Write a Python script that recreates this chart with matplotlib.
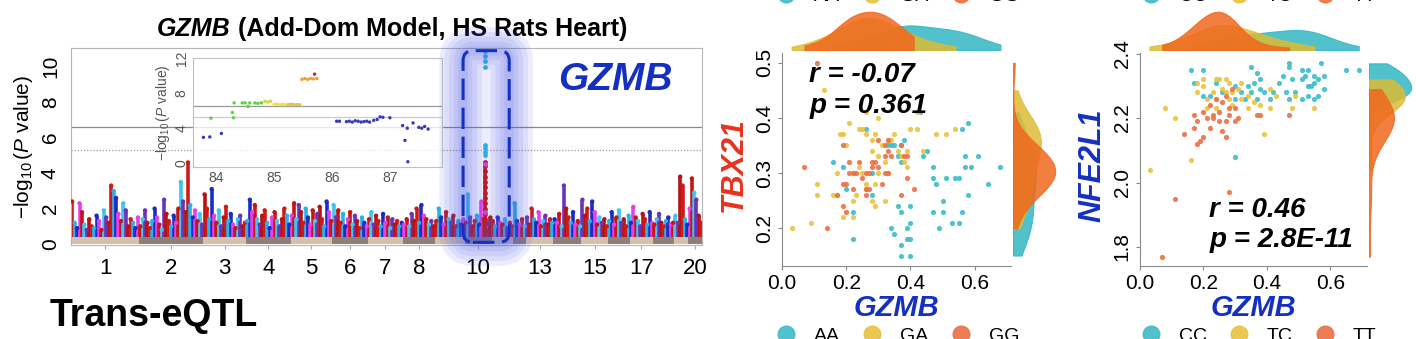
import numpy as np
import matplotlib
matplotlib.use("Agg")
import matplotlib.pyplot as plt
from matplotlib.patches import FancyBboxPatch
from matplotlib.lines import Line2D
from matplotlib.transforms import IdentityTransform

plt.rcParams['font.family'] = ['Liberation Sans', 'DejaVu Sans']
plt.rcParams['mathtext.fontset'] = 'custom'
plt.rcParams['mathtext.rm'] = 'Liberation Sans'
plt.rcParams['mathtext.it'] = 'Liberation Sans:italic'

# ---------------- data ----------------
chrom_len = [282, 266, 177, 184, 173, 147, 145, 133, 122, 112,
             90, 52, 114, 115, 111, 90, 97, 87, 59, 56]
shown_chroms = [1, 2, 3, 4, 5, 6, 7, 8, 10, 13, 15, 17, 20]

# -log10(P) of SNPs along each chromosome (in order)
snp_heights = [
    "2.4 1.2 0.9 2.3 1.8 1.1 0.8 1.4 1.0 0.9 1.6 1.3 0.8 1.9 1.5 1.2 3.3 3.0 2.6 1.7 1.3 2.3 1.9 1.0 1.4 1.2 0.9 1.5",
    "1.0 1.4 1.9 1.2 0.9 1.3 2.0 1.5 1.1 0.8 2.5 1.7 1.3 1.0 1.6 1.2 2.0 3.5 2.4 1.8 4.6 2.2 1.5 1.9 1.3 1.7 1.1",
    "2.8 2.0 1.4 3.1 1.6 1.2 1.9 1.0 1.5 2.1 1.3 1.7 1.1 0.9 1.4 1.6 1.0 1.2",
    "1.3 2.5 1.8 2.2 1.4 1.1 1.6 1.9 1.2 0.9 1.5 1.8 1.3 1.0 1.4 2.0 1.6 1.1",
    "1.6 2.3 1.4 2.2 1.8 1.2 2.0 1.5 1.1 1.9 1.3 1.7 2.1 1.4 1.0 2.4 1.8 1.3",
    "2.2 1.5 1.9 1.2 1.7 1.0 1.4 1.8 1.1 1.6 1.3 0.9 1.5 1.2 1.0",
    "1.4 1.8 1.1 1.6 1.3 1.0 1.7 1.2 1.5 0.9 1.4 1.1 1.3 1.0 1.2",
    "1.1 1.4 1.0 1.7 1.3 2.0 1.2 2.2 1.6 1.4 1.1 1.3 1.0",
    "1.3 2.0 1.5 1.1 1.8 1.4 1.2 1.6 1.0 1.3 1.1 1.4",
    "1.2 2.8 1.5 1.0 1.3 1.6 1.1 2.4 1.4 1.0 1.2 1.5",
    "1.3 1.0 1.5 1.2 1.1 1.4 0.9 1.2 1.0",
    "2.3 1.3 1.1 1.4 1.0",
    "1.5 1.1 2.0 1.4 1.2 1.8 1.0 1.3 1.6 1.1 1.4 1.2",
    "1.4 1.2 1.7 1.0 3.3 2.0 1.5 1.2 1.8 1.1 1.3 1.0",
    "2.5 1.6 2.0 1.3 2.4 1.8 1.1 1.5 1.2 1.4 1.0",
    "1.3 1.8 1.1 1.5 1.9 1.2 1.4 1.0 1.6",
    "1.2 2.1 1.5 1.3 1.0 1.7 1.4 1.1 1.8 1.2",
    "1.1 1.4 1.7 1.2 1.0 1.3 1.5 1.1 1.2",
    "1.6 1.2 3.8 3.3 1.4 1.1",
    "2.0 3.7 2.9 2.5 1.6 1.2",
]

# chr10 trans-eQTL peak
peak_chrom = 10
peak_mb = 85
peak_red = [0.8, 1.1, 1.4, 1.7, 2.0, 2.3, 2.6, 2.9, 3.2, 3.5, 3.8, 4.1, 4.4, 4.6]
peak_cyan = [5.0, 5.2, 5.4, 5.6, 10.0, 10.3, 10.6, 10.9]
peak_magenta = [1.8, 4.5]
sig_line, sugg_line = 6.6, 5.3

# zoomed region chr10 (Mb, -log10 P, colour)
inset_pos = [83.78, 83.89, 84.09, 83.91, 84.28, 84.30, 84.31, 84.45, 84.50, 84.55, 84.58, 84.67, 84.72, 84.78,
             84.84, 84.89, 84.94, 85.00, 85.05, 85.10, 85.15, 85.20, 85.25, 85.30, 85.35, 85.40, 85.44,
             85.48, 85.53, 85.58, 85.63, 85.68, 85.74, 85.70,
             86.08, 86.13, 86.25, 86.30, 86.35, 86.40, 86.45, 86.50, 86.55, 86.60, 86.65, 86.72, 86.78, 86.83,
             86.88, 87.00, 87.22, 87.26, 87.30, 87.31, 87.40, 87.50, 87.55, 87.60, 87.66]
inset_val = [2.95, 3.0, 3.4, 5.15, 5.8, 5.2, 6.9, 6.9, 6.9, 6.5, 6.9, 6.9, 6.85, 6.9,
             7.1, 7.0, 7.1, 6.75, 6.75, 6.7, 6.75, 6.7, 6.7, 6.75, 6.7, 6.7, 6.7,
             9.6, 9.7, 9.6, 9.7, 9.65, 9.7, 10.2,
             4.8, 4.8, 4.75, 4.8, 4.7, 4.85, 4.8, 4.7, 4.75, 4.8, 4.7, 4.9, 5.0, 5.3,
             5.25, 5.2, 4.3, 2.6, 4.0, 0.15, 4.6, 4.1, 4.0, 4.2, 3.9]
inset_col = ['#3a3ab8'] * 3 + ['#5ad43a'] * 11 + ['#c8e030'] * 3 + ['#eee040'] * 5 + ['#e8c048'] * 5 \
    + ['#f0a030'] * 6 + ['#dd2020'] + ['#3a3ab8'] * 25

# scatter panel 1: GZMB vs TBX21, genotype AA / GA / GG
gzmb_aa = [0.56, 0.68, 0.64, 0.57, 0.57, 0.54, 0.55, 0.58, 0.56, 0.55, 0.53, 0.49, 0.47, 0.47, 0.47, 0.48, 0.50,
           0.51, 0.44, 0.45, 0.43, 0.40, 0.40, 0.39, 0.39, 0.37, 0.40, 0.37, 0.40, 0.34, 0.35, 0.36, 0.37, 0.35,
           0.34, 0.37, 0.38, 0.33, 0.37, 0.28, 0.28, 0.22, 0.22, 0.20, 0.16, 0.19, 0.26, 0.36, 0.50, 0.58, 0.61, 0.59]
tbx21_aa = [0.38, 0.31, 0.28, 0.33, 0.31, 0.29, 0.29, 0.26, 0.23, 0.21, 0.21, 0.20, 0.23, 0.31, 0.29, 0.28, 0.23,
            0.29, 0.33, 0.34, 0.41, 0.24, 0.21, 0.20, 0.18, 0.17, 0.18, 0.15, 0.15, 0.20, 0.19, 0.24, 0.23, 0.35,
            0.35, 0.35, 0.36, 0.35, 0.32, 0.30, 0.26, 0.23, 0.18, 0.27, 0.32, 0.31, 0.38, 0.33, 0.25, 0.39, 0.33, 0.31]
gzmb_ga = [0.13, 0.03, 0.09, 0.11, 0.11, 0.16, 0.17, 0.21, 0.18, 0.19, 0.20, 0.22, 0.24, 0.22, 0.22, 0.25, 0.26,
           0.24, 0.26, 0.27, 0.28, 0.29, 0.30, 0.28, 0.30, 0.32, 0.26, 0.26, 0.29, 0.28, 0.30, 0.33, 0.39, 0.37,
           0.38, 0.39, 0.42, 0.42, 0.40, 0.35, 0.34, 0.48, 0.51, 0.54, 0.44, 0.17, 0.19, 0.23, 0.29, 0.25, 0.32,
           0.36, 0.31, 0.33]
tbx21_ga = [0.45, 0.20, 0.21, 0.28, 0.26, 0.26, 0.30, 0.39, 0.37, 0.37, 0.35, 0.30, 0.31, 0.25, 0.22, 0.38, 0.37,
            0.38, 0.41, 0.42, 0.36, 0.37, 0.40, 0.34, 0.33, 0.32, 0.28, 0.27, 0.28, 0.25, 0.30, 0.30, 0.34, 0.33,
            0.32, 0.31, 0.41, 0.38, 0.38, 0.37, 0.36, 0.37, 0.37, 0.38, 0.34, 0.26, 0.22, 0.26, 0.24, 0.30, 0.25,
            0.34, 0.35, 0.36]
gzmb_gg = [0.11, 0.07, 0.14, 0.19, 0.20, 0.17, 0.19, 0.20, 0.19, 0.21, 0.22, 0.21, 0.22, 0.24, 0.26, 0.26, 0.27,
           0.26, 0.28, 0.29, 0.28, 0.32, 0.30, 0.32, 0.33, 0.30, 0.32, 0.33, 0.33, 0.34, 0.37, 0.38, 0.37, 0.39,
           0.41, 0.39, 0.27, 0.25, 0.23, 0.31]
tbx21_gg = [0.50, 0.31, 0.20, 0.28, 0.28, 0.26, 0.24, 0.23, 0.35, 0.32, 0.30, 0.30, 0.27, 0.32, 0.26, 0.27, 0.27,
            0.30, 0.32, 0.32, 0.31, 0.33, 0.31, 0.30, 0.30, 0.36, 0.35, 0.36, 0.34, 0.33, 0.35, 0.33, 0.26, 0.33,
            0.27, 0.29, 0.30, 0.29, 0.30, 0.28]

# scatter panel 2: GZMB vs NFE2L1, genotype CC / TC / TT
gzmb_cc = [0.16, 0.20, 0.17, 0.20, 0.22, 0.30, 0.35, 0.37, 0.38, 0.36, 0.34, 0.38, 0.35, 0.39, 0.41, 0.37, 0.42,
           0.45, 0.44, 0.47, 0.47, 0.51, 0.53, 0.57, 0.58, 0.55, 0.56, 0.48, 0.51, 0.52, 0.53, 0.55, 0.54, 0.46,
           0.47, 0.49, 0.51, 0.53, 0.56, 0.58, 0.55, 0.65, 0.69, 0.30, 0.32, 0.33, 0.26, 0.30, 0.24]
nfe2l1_cc = [2.35, 2.35, 2.31, 2.27, 2.27, 2.08, 2.36, 2.34, 2.32, 2.31, 2.30, 2.29, 2.28, 2.28, 2.26, 2.26, 2.28,
             2.33, 2.31, 2.37, 2.36, 2.35, 2.35, 2.37, 2.33, 2.33, 2.32, 2.32, 2.32, 2.33, 2.30, 2.31, 2.30, 2.28,
             2.26, 2.28, 2.26, 2.27, 2.27, 2.29, 2.26, 2.35, 2.35, 2.30, 2.28, 2.26, 2.28, 2.26, 2.31]
gzmb_tc = [0.03, 0.08, 0.11, 0.16, 0.39, 0.18, 0.18, 0.20, 0.21, 0.23, 0.24, 0.25, 0.27, 0.26, 0.27, 0.28, 0.29,
           0.28, 0.31, 0.32, 0.34, 0.34, 0.38, 0.41, 0.41, 0.32, 0.24, 0.21, 0.49, 0.55, 0.48, 0.43, 0.24, 0.20,
           0.29, 0.36]
nfe2l1_tc = [2.04, 2.23, 2.20, 2.07, 2.15, 2.31, 2.28, 2.30, 2.26, 2.28, 2.26, 2.32, 2.32, 2.29, 2.28, 2.26, 2.28,
             2.31, 2.29, 2.26, 2.27, 2.23, 2.24, 2.23, 2.29, 2.31, 2.23, 2.23, 2.27, 2.23, 2.23, 2.27, 2.32, 2.32,
             2.24, 2.25]
gzmb_tt = [0.07, 0.11, 0.28, 0.14, 0.17, 0.18, 0.17, 0.19, 0.18, 0.20, 0.22, 0.23, 0.25, 0.25, 0.26, 0.27, 0.27,
           0.28, 0.30, 0.31, 0.30, 0.28, 0.26, 0.24, 0.22, 0.20, 0.37, 0.38, 0.47, 0.27, 0.29, 0.23, 0.21]
nfe2l1_tt = [1.77, 1.95, 1.97, 2.15, 2.21, 2.19, 2.17, 2.13, 2.12, 2.14, 2.17, 2.21, 2.22, 2.19, 2.16, 2.14, 2.19,
             2.21, 2.19, 2.20, 2.23, 2.23, 2.25, 2.26, 2.24, 2.22, 2.21, 2.21, 2.21, 2.27, 2.29, 2.20, 2.20]

# ---------------- styling ----------------
W, H = 1416, 339
manh_cols = ['#d01a1a', '#28b2ea', '#1c2cc2', '#e840e8', '#c41616', '#40c4f0', '#6a34b8', '#b81212']
geno_cols = ['#3cbcc8', '#e8c23e', '#ec6f44']
kde_cols = ['#33b6c3', '#dcbc36', '#f0681e']
blue_txt = '#1530c0'


def frac(x0, y0, x1, y1):
    # pixel box -> figure fraction rect
    return [x0 / W, 1 - y1 / H, (x1 - x0) / W, (y1 - y0) / H]


def kde_curve(vals, n=200, adjust=1.25):
    vals = np.asarray(vals, float)
    bw = adjust * vals.std(ddof=1) * len(vals) ** (-1 / 5)
    grid = np.linspace(vals.min(), vals.max(), n)
    dens = np.exp(-0.5 * ((grid[:, None] - vals[None, :]) / bw) ** 2).mean(1) / (bw * np.sqrt(2 * np.pi))
    return grid, dens


fig = plt.figure(figsize=(W / 100, H / 100), dpi=100)

# ---------------- Manhattan ----------------
ax = fig.add_axes(frac(71, 48, 702, 245))
offsets = np.concatenate([[0], np.cumsum(chrom_len)[:-1]])
centers = offsets + np.array(chrom_len) / 2
band_cols = ['#d3c1aa' if i % 2 == 0 else '#8c8079' for i in range(len(chrom_len))]
ax.bar(centers, 0.42, width=chrom_len, color=band_cols, zorder=1)

k = 0
for i, s in enumerate(snp_heights):
    h = np.array(s.split(), float)
    pos = offsets[i] + (np.arange(len(h)) + 0.5) / len(h) * chrom_len[i]
    cols = [manh_cols[(k + j) % len(manh_cols)] for j in range(len(h))]
    k += len(h)
    ax.vlines(pos, 0.42, h, colors=cols, lw=2.6, zorder=2)
    ax.scatter(pos, h, s=10, c=cols, lw=0, zorder=3)

xp = offsets[peak_chrom - 1] + peak_mb
ax.vlines(xp, 0.42, max(peak_red), color='#c81414', lw=2.6, zorder=3)
ax.scatter([xp] * len(peak_red), peak_red, s=12, c='#c81414', lw=0, zorder=4)
ax.scatter([xp] * len(peak_magenta), peak_magenta, s=12, c='#e040e0', lw=0, zorder=4)
ax.scatter([xp] * len(peak_cyan), peak_cyan, s=12, c='#2ab8e8', lw=0, zorder=4)

ax.axhline(sig_line, color='#8a8a8a', lw=0.9, zorder=0.5)
ax.axhline(sugg_line, color='#9a9a9a', lw=0.9, ls=(0, (1, 1.5)), zorder=0.5)
ax.set_xlim(0, sum(chrom_len))
ax.set_ylim(-0.05, 11.05)
ax.set_xticks([centers[c - 1] for c in shown_chroms])
ax.set_xticklabels([str(c) for c in shown_chroms], fontsize=16)
ax.set_yticks([0, 2, 4, 6, 8, 10])
ax.set_yticklabels(['0', '2', '4', '6', '8', '10'], rotation=90, va='center', fontsize=15)
ax.tick_params(axis='x', length=3, color='#aaaaaa', pad=6)
ax.tick_params(axis='y', length=0, pad=8)
for sp in ax.spines.values():
    sp.set_color('#b5b5b5')
ax.set_ylabel(r'$-\log_{10}(P$ value)', fontsize=15, labelpad=4)
ax.set_facecolor('white')

# glowing dashed box around the chr10 peak
box_x = (1623, 1814)
box_y = (0.1, 10.9)
(bx0, by0) = ax.transData.transform((box_x[0], box_y[0]))
(bx1, by1) = ax.transData.transform((box_x[1], box_y[1]))
for lw in [34, 27, 20, 13, 7]:
    fig.add_artist(FancyBboxPatch((bx0, by0), bx1 - bx0, by1 - by0,
                                  boxstyle='round,pad=0,rounding_size=10', fill=False,
                                  ec='#4858e6', lw=lw, alpha=0.1, transform=IdentityTransform(),
                                  zorder=5))
fig.add_artist(FancyBboxPatch((bx0, by0), bx1 - bx0, by1 - by0,
                              boxstyle='round,pad=0,rounding_size=10', fill=False,
                              ec=blue_txt, lw=2.2, ls=(0, (7, 2.5)), transform=IdentityTransform(),
                              zorder=6))

fig.text(615 / W, 1 - 80 / H, 'GZMB', color=blue_txt, fontsize=28, weight='bold', style='italic',
         ha='center', va='center')

# inset zoom of the peak region
axi = fig.add_axes(frac(193, 58, 442, 167))
axi.set_facecolor((1, 1, 1, 0.8))
axi.axhline(sig_line, color='#999999', lw=0.9)
axi.axhline(sugg_line, color='#cccccc', lw=0.9)
axi.scatter(inset_pos, inset_val, s=6, c=inset_col, lw=0, zorder=3)
axi.set_xlim(83.6, 87.9)
axi.set_ylim(-0.45, 12.05)
axi.set_xticks([84, 85, 86, 87])
axi.set_yticks([0, 4, 8, 12])
axi.set_yticklabels(['0', '4', '8', '12'], rotation=90, va='center')
axi.tick_params(labelsize=10, labelcolor='#555555', length=0, pad=3)
for sp in axi.spines.values():
    sp.set_color('#c0c0c0')
axi.set_ylabel(r'$-\log_{10}(P$ value)', fontsize=10, color='#555555', labelpad=2)

# title
r = fig.canvas.get_renderer()
t1 = fig.text(0, 1 - 29 / H, 'GZMB', fontsize=18, weight='bold', style='italic', va='center')
t2 = fig.text(0, 1 - 29 / H, ' (Add-Dom Model, HS Rats Heart)', fontsize=18, weight='bold', va='center')
w1 = t1.get_window_extent(r).width
w2 = t2.get_window_extent(r).width
xs = 392 - (w1 + w2) / 2
t1.set_x(xs / W)
t2.set_x((xs + w1) / W)

fig.text(50 / W, 1 - 316 / H, 'Trans-eQTL', fontsize=27, weight='bold', va='center')


# ---------------- scatter panels ----------------
def joint_panel(px0, px1, xs_list, ys_list, xlim, ylim, yticks, ylab, ylab_col, ylab_x,
                txt_pos, txt_lines, labels, leg_x):
    axm = fig.add_axes(frac(px0, 53, px1, 266))
    for xv, yv, c in zip(xs_list, ys_list, geno_cols):
        axm.scatter(xv, yv, s=14, color=c, alpha=0.9, lw=0, zorder=3)
    axm.set_xlim(*xlim)
    axm.set_ylim(*ylim)
    axm.set_xticks([0.0, 0.2, 0.4, 0.6])
    axm.set_xticklabels(['0.0', '0.2', '0.4', '0.6'])
    axm.set_yticks(yticks)
    axm.set_yticklabels([f'{v:.1f}' for v in yticks], rotation=90, va='center')
    axm.tick_params(labelsize=15, length=3, color='#888888', pad=3)
    for s in ['top', 'right']:
        axm.spines[s].set_visible(False)
    for s in ['left', 'bottom']:
        axm.spines[s].set_color('#8a8a8a')
    for j, line in enumerate(txt_lines):
        axm.text(txt_pos[0], txt_pos[1] - j * 0.142, line, transform=axm.transAxes, fontsize=20,
                 weight='bold', style='italic', va='center')
    fig.text((px0 + px1) / 2 / W, 1 - 308 / H, 'GZMB', color=blue_txt, fontsize=21,
             weight='bold', style='italic', ha='center', va='center')
    fig.text(ylab_x / W, 1 - 165 / H, ylab, color=ylab_col, fontsize=22, weight='bold',
             style='italic', rotation=90, ha='center', va='center')

    axt = fig.add_axes(frac(px0, 11, px1, 50))
    top_max = 0
    for xv, c in zip(xs_list, kde_cols):
        g, d = kde_curve(xv)
        axt.fill_between(g, 0, d, color=c, alpha=0.85, lw=0.8, ec=c)
        top_max = max(top_max, d.max())
    axt.set_xlim(*xlim)
    axt.set_ylim(0, top_max * 1.02)
    axt.axis('off')

    axr = fig.add_axes(frac(px1 + 2, 53, px1 + 45, 266))
    r_max = 0
    for yv, c in zip(ys_list, kde_cols):
        g, d = kde_curve(yv)
        axr.fill_betweenx(g, 0, d, color=c, alpha=0.85, lw=0.8, ec=c)
        r_max = max(r_max, d.max())
    axr.set_ylim(*ylim)
    axr.set_xlim(0, r_max * 1.02)
    axr.axis('off')

    handles = [Line2D([], [], marker='o', ls='', markersize=12, color=c, alpha=0.9) for c in geno_cols]
    for ly in [0.009, 1.012]:
        fig.legend(handles, labels, loc='center', bbox_to_anchor=(leg_x / W, ly), ncol=3,
                   frameon=False, fontsize=14, handlelength=1.0, handletextpad=0.94,
                   columnspacing=1.15)


joint_panel(782, 1011, [gzmb_aa, gzmb_ga, gzmb_gg], [tbx21_aa, tbx21_ga, tbx21_gg],
            (0, 0.713), (0.131, 0.518), [0.2, 0.3, 0.4, 0.5], 'TBX21', '#e8321e', 734,
            (0.12, 0.895), ['r = -0.07', 'p = 0.361'], ['AA', 'GA', 'GG'], 898)
joint_panel(1140, 1367, [gzmb_cc, gzmb_tc, gzmb_tt], [nfe2l1_cc, nfe2l1_tc, nfe2l1_tt],
            (0, 0.716), (1.741, 2.402), [1.8, 2.0, 2.2, 2.4], 'NFE2L1', blue_txt, 1092,
            (0.305, 0.265), ['r = 0.46', 'p = 2.8E-11'], ['CC', 'TC', 'TT'], 1259)

fig.savefig('out.png', dpi=100)
